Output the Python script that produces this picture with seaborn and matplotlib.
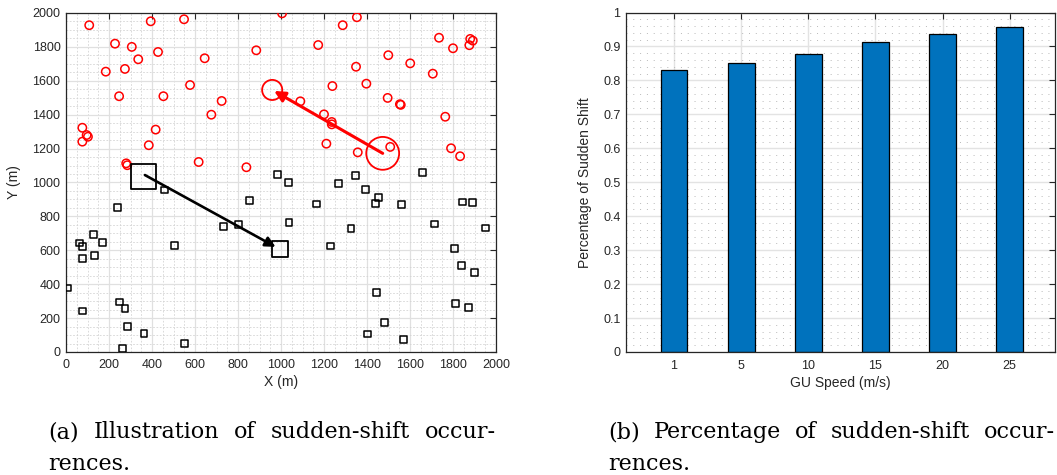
import numpy as np
import pandas as pd
import matplotlib
matplotlib.use("Agg")
import matplotlib.pyplot as plt
from matplotlib.ticker import MultipleLocator
import seaborn as sns

# ---------------- data ----------------
# (a) red circles (group 1 users)
red_x = [108, 394, 549, 228, 306, 428, 336, 185, 274, 645, 885, 577, 247, 453, 724, 676,
         76, 96, 102, 76, 417, 385, 280, 285, 617, 839, 1005, 1353, 1287, 1173, 1735,
         1880, 1892, 1876, 1800, 1499, 1601, 1706, 1349, 1397, 1239, 1090, 1496, 1553,
         1557, 1200, 1236, 1236, 1211, 1357, 1508, 1764, 1791, 1833]
red_y = [1928, 1951, 1963, 1819, 1800, 1770, 1727, 1654, 1670, 1733, 1780, 1575, 1509, 1509,
         1481, 1400, 1323, 1280, 1270, 1241, 1312, 1220, 1113, 1102, 1121, 1090, 1998, 1975,
         1928, 1811, 1854, 1847, 1837, 1810, 1792, 1751, 1703, 1642, 1683, 1583, 1569, 1479,
         1499, 1462, 1458, 1402, 1357, 1343, 1229, 1178, 1210, 1388, 1202, 1155]
# (a) black squares (group 2 users)
blk_x = [985, 459, 853, 240, 733, 803, 127, 62, 76, 169, 504, 133, 76, 9, 248, 274, 78,
         285, 363, 553, 262, 1034, 1347, 1657, 1268, 1392, 1454, 1440, 1164, 1561, 1845,
         1890, 1037, 1326, 1715, 1952, 1231, 1808, 1840, 1899, 1445, 1811, 1873, 1480,
         1401, 1569]
blk_y = [1046, 956, 893, 851, 739, 753, 694, 643, 624, 647, 627, 571, 550, 378, 295, 258,
         242, 149, 110, 49, 19, 999, 1043, 1060, 995, 960, 910, 877, 873, 871, 885, 881,
         763, 730, 755, 732, 625, 609, 509, 468, 350, 285, 261, 175, 106, 73]
# sudden-shift: centroid before (large marker) and after (small marker)
red_shift_from = (1473, 1172)
red_shift_to = (959, 1546)
red_arrow_tip = (968, 1540)
blk_shift_from = (360, 1034)
blk_shift_to = (995, 606)
blk_arrow_start = (367, 1044)
blk_arrow_tip = (975, 620)

# (b) percentage of sudden shift vs GU speed
speed_labels = ["1", "5", "10", "15", "20", "25"]
pct = [0.830, 0.852, 0.879, 0.912, 0.937, 0.957]

caption_a = ["(a) Illustration of sudden-shift occur-", "rences."]
caption_b = ["(b) Percentage of sudden-shift occur-", "rences."]

# ---------------- style ----------------
sns.set_theme(style="white")
plt.rcParams["font.family"] = ["Liberation Sans", "DejaVu Sans"]
TXT = "#262626"
plt.rcParams.update({
    "axes.edgecolor": TXT, "axes.linewidth": 0.9,
    "xtick.color": TXT, "ytick.color": TXT,
    "xtick.labelcolor": TXT, "ytick.labelcolor": TXT,
    "axes.labelcolor": TXT,
})

W, H = 1057, 475
fig = plt.figure(figsize=(W / 100, H / 100), dpi=100)

def px_axes(l, r, t, b):
    return fig.add_axes([l / W, (H - b) / H, (r - l) / W, (b - t) / H])

def style_ticks(ax):
    ax.tick_params(which="both", direction="in", top=True, right=True,
                   labelsize=9, length=4, width=0.8, pad=4)
    ax.tick_params(which="minor", length=0)
    for s in ax.spines.values():
        s.set_visible(True)
        s.set_color(TXT)
        s.set_linewidth(0.9)

# ---------------- (a) ----------------
ax1 = px_axes(66, 496, 13, 352)
ax1.set_axisbelow(True)
sns.scatterplot(x=red_x, y=red_y, ax=ax1, marker="o", s=36, facecolors="none",
                edgecolor="#ff0000", linewidth=1.1, zorder=3)
sns.scatterplot(x=blk_x, y=blk_y, ax=ax1, marker="s", s=24, facecolors="none",
                edgecolor="black", linewidth=1.1, zorder=3)
sns.scatterplot(x=[red_shift_from[0]], y=[red_shift_from[1]], ax=ax1, marker="o", s=560,
                facecolors="none", edgecolor="#ff0000", linewidth=1.3, zorder=3)
sns.scatterplot(x=[red_shift_to[0]], y=[red_shift_to[1]], ax=ax1, marker="o", s=210,
                facecolors="none", edgecolor="#ff0000", linewidth=1.3, zorder=3)
sns.scatterplot(x=[blk_shift_from[0]], y=[blk_shift_from[1]], ax=ax1, marker="s", s=330,
                facecolors="none", edgecolor="black", linewidth=1.3, zorder=3)
sns.scatterplot(x=[blk_shift_to[0]], y=[blk_shift_to[1]], ax=ax1, marker="s", s=135,
                facecolors="none", edgecolor="black", linewidth=1.3, zorder=3)
ax1.annotate("", xy=red_arrow_tip, xytext=red_shift_from,
             arrowprops=dict(arrowstyle="-|>", color="#ff0000", lw=2.2,
                             mutation_scale=16, shrinkA=0, shrinkB=0), zorder=4)
ax1.annotate("", xy=blk_arrow_tip, xytext=blk_arrow_start,
             arrowprops=dict(arrowstyle="-|>", color="black", lw=1.9,
                             mutation_scale=15, shrinkA=0, shrinkB=0), zorder=4)
ax1.set_xlim(0, 2000)
ax1.set_ylim(0, 2000)
ax1.xaxis.set_major_locator(MultipleLocator(200))
ax1.yaxis.set_major_locator(MultipleLocator(200))
ax1.xaxis.set_minor_locator(MultipleLocator(50))
ax1.yaxis.set_minor_locator(MultipleLocator(50))
ax1.grid(which="major", color="#e0e0e0", linewidth=0.9)
ax1.grid(which="minor", color="#d4d4d4", linewidth=0.6, linestyle=(0, (2, 2)))
style_ticks(ax1)
ax1.tick_params(axis="x", pad=5)
ax1.set_xlabel("X (m)", fontsize=10, labelpad=3)
ax1.set_ylabel("Y (m)", fontsize=10, labelpad=8)

# ---------------- (b) ----------------
ax2 = px_axes(626, 1055, 12.5, 352)
ax2.set_axisbelow(True)
df = pd.DataFrame({"speed": speed_labels, "pct": pct})
sns.barplot(data=df, x="speed", y="pct", order=speed_labels, color="#0072BD",
            saturation=1, width=0.4, edgecolor="black", linewidth=0.9, ax=ax2, zorder=2)
ax2.set_xlim(-0.715, 5.675)
ax2.set_ylim(0, 1)
ax2.yaxis.set_minor_locator(MultipleLocator(0.02))
ax2.set_yticks(np.arange(0, 1.01, 0.1))
ax2.set_yticklabels(["0", "0.1", "0.2", "0.3", "0.4", "0.5", "0.6", "0.7", "0.8", "0.9", "1"])
ax2.grid(axis="both", which="major", color="#e3e3e3", linewidth=1.0)
ax2.grid(axis="y", which="minor", color="#b8b8b8", linewidth=0.7, linestyle=(0, (1, 6)))
style_ticks(ax2)
ax2.tick_params(axis="x", pad=6)
ax2.set_xlabel("GU Speed (m/s)", fontsize=10, labelpad=3)
ax2.set_ylabel("Percentage of Sudden Shift", fontsize=10, labelpad=8)

# ---------------- captions (justified like the paper) ----------------
cap_kw = dict(fontsize=16, family=["DejaVu Serif"], color="black",
              va="baseline", ha="left")
renderer = fig.canvas.get_renderer()

def justified(lines, x0, x1, y0, dy):
    for i, line in enumerate(lines):
        y = 1 - (y0 + dy * i) / H
        words = line.split(" ")
        if i == len(lines) - 1 or len(words) == 1:
            fig.text(x0 / W, y, line, **cap_kw)
            continue
        objs = [fig.text(0, y, w, **cap_kw) for w in words]
        widths = [o.get_window_extent(renderer).width for o in objs]
        gap = (x1 - x0 - sum(widths)) / (len(words) - 1)
        x = x0
        for o, w in zip(objs, widths):
            o.set_x(x / W)
            x += w + gap

justified(caption_a, 48, 496, 438, 31.5)
justified(caption_b, 608, 1055, 438, 31.5)

fig.savefig("out.png", dpi=100)
